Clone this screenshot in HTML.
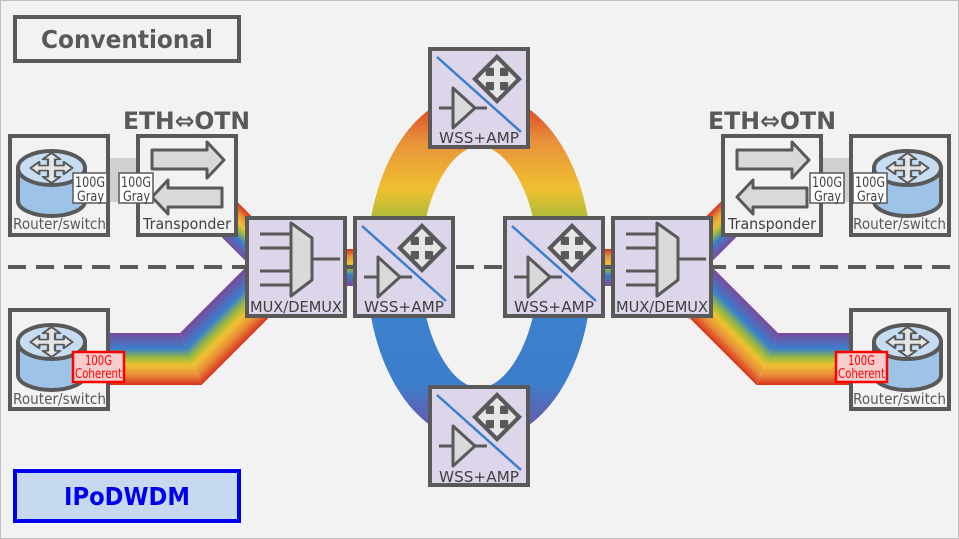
<!DOCTYPE html>
<html><head><meta charset="utf-8"><style>
html,body{margin:0;padding:0;background:#f2f2f2;}
svg{display:block;}
text{font-family:"DejaVu Sans","Liberation Sans",sans-serif;}
</style></head><body>
<svg width="959" height="539" viewBox="0 0 959 539" xmlns="http://www.w3.org/2000/svg">
<defs>
<linearGradient id="ring" gradientUnits="userSpaceOnUse" x1="0" y1="95" x2="0" y2="445">
<stop offset="0" stop-color="#d8321f"/><stop offset="0.13" stop-color="#e8903a"/><stop offset="0.27" stop-color="#f0c030"/><stop offset="0.37" stop-color="#9dbb3c"/><stop offset="0.55" stop-color="#3f80cc"/><stop offset="0.82" stop-color="#3a7fcc"/><stop offset="1" stop-color="#7a4a9c"/>
</linearGradient>
<linearGradient id="hband" x1="0" y1="0" x2="0" y2="1">
<stop offset="0" stop-color="#d8321f"/><stop offset="0.2" stop-color="#e8903a"/><stop offset="0.38" stop-color="#f0c030"/><stop offset="0.52" stop-color="#9dbb3c"/><stop offset="0.7" stop-color="#3a7fcc"/><stop offset="1" stop-color="#7a4a9c"/>
</linearGradient>
<linearGradient id="hbandR" x1="0" y1="1" x2="0" y2="0">
<stop offset="0" stop-color="#d8321f"/><stop offset="0.2" stop-color="#e8903a"/><stop offset="0.38" stop-color="#f0c030"/><stop offset="0.52" stop-color="#9dbb3c"/><stop offset="0.7" stop-color="#3a7fcc"/><stop offset="1" stop-color="#7a4a9c"/>
</linearGradient>
<linearGradient id="dband" gradientUnits="userSpaceOnUse" x1="216.75" y1="369.75" x2="180" y2="333">
<stop offset="0" stop-color="#d8321f"/><stop offset="0.2" stop-color="#e8903a"/><stop offset="0.38" stop-color="#f0c030"/><stop offset="0.52" stop-color="#9dbb3c"/><stop offset="0.7" stop-color="#3a7fcc"/><stop offset="1" stop-color="#7a4a9c"/>
</linearGradient>
<linearGradient id="uband" gradientUnits="userSpaceOnUse" x1="227.7" y1="192.3" x2="202.3" y2="217.7">
<stop offset="0" stop-color="#d8321f"/><stop offset="0.2" stop-color="#e8903a"/><stop offset="0.38" stop-color="#f0c030"/><stop offset="0.52" stop-color="#9dbb3c"/><stop offset="0.7" stop-color="#3a7fcc"/><stop offset="1" stop-color="#7a4a9c"/>
</linearGradient>
<path id="crossp" d="M0,-12 L5,-7 L2,-7 L2,-2 L7,-2 L7,-5 L12,0 L7,5 L7,2 L2,2 L2,7 L5,7 L0,12 L-5,7 L-2,7 L-2,2 L-7,2 L-7,5 L-12,0 L-7,-5 L-7,-2 L-2,-2 L-2,-7 L-5,-7 Z"/>
<g id="router">
<rect x="0" y="0" width="98" height="99" fill="#f2f2f2" stroke="#595959" stroke-width="4"/>
<path d="M8,32 L8,65 A33.5,15 0 0 0 75,65 L75,32 Z" fill="#9dc3e6" stroke="#595959" stroke-width="4"/>
<ellipse cx="41.5" cy="32" rx="33.5" ry="17" fill="#c6dcf0" stroke="#595959" stroke-width="4"/>
<g transform="translate(41.5,32) scale(1.75,1.25)"><use href="#crossp" fill="#e6e6e6" stroke="#595959" stroke-width="1.3" stroke-linejoin="round"/></g>
</g>
<g id="trans">
<rect x="0" y="0" width="98" height="99" fill="#f2f2f2" stroke="#595959" stroke-width="4"/>
<path d="M14,14 L69,14 L69,6 L86,24 L69,42 L69,33 L14,33 Z" fill="#d9d9d9" stroke="#595959" stroke-width="3" stroke-linejoin="round"/>
<path d="M84,52 L30,52 L30,44 L14,61 L30,78 L30,71 L84,71 Z" fill="#d9d9d9" stroke="#595959" stroke-width="3" stroke-linejoin="round"/>
</g>
<g id="mux">
<rect x="0" y="0" width="98" height="98" fill="#ddd5ea" stroke="#595959" stroke-width="4"/>
<path d="M44,5 L65,20 L65,62 L44,78 Z" fill="#d9d9d9" stroke="#595959" stroke-width="3" stroke-linejoin="round"/>
<path d="M13,16 H44 M13,30 H44 M13,53 H44 M13,67 H44 M65,41 H93" stroke="#595959" stroke-width="3"/>
</g>
<g id="wss">
<rect x="0" y="0" width="98" height="98" fill="#ddd5ea" stroke="#595959" stroke-width="4"/>
<line x1="7" y1="8" x2="91" y2="83" stroke="#3a7fcc" stroke-width="2.5"/>
<path d="M23,39 L45,59 L23,79 Z" fill="#d9d9d9" stroke="#595959" stroke-width="3" stroke-linejoin="round"/>
<path d="M9,59 H23 M45,59 H57" stroke="#595959" stroke-width="3"/>
<path d="M67,5 L92,30 L67,55 L42,30 Z" fill="#595959"/>
<g transform="translate(67,30) scale(1.6)"><use href="#crossp" fill="#e6e6e6"/></g>
<rect x="57" y="20" width="7" height="7" fill="#595959"/><rect x="70" y="20" width="7" height="7" fill="#595959"/>
<rect x="57" y="33" width="7" height="7" fill="#595959"/><rect x="70" y="33" width="7" height="7" fill="#595959"/>
</g>
</defs>
<rect x="0.5" y="0.5" width="958" height="538" fill="#f2f2f2" stroke="#bfbfbf"/>

<ellipse cx="479.5" cy="267" rx="86" ry="148" fill="none" stroke="url(#ring)" stroke-width="54"/>

<rect x="106" y="158" width="34" height="44" fill="#d0d0d0"/>
<rect x="819" y="158" width="34" height="44" fill="#d0d0d0"/>

<g>
<polygon points="227.7,192.3 277.7,242.3 252.3,267.7 202.3,217.7" fill="url(#uband)"/>
<polygon points="100,333 180,333 201.5,385 100,385" fill="url(#hbandR)"/>
<polygon points="180,333 201.5,385 281.5,305 260,253" fill="url(#dband)"/>
<rect x="340" y="249" width="20" height="37" fill="url(#hband)"/>
</g>
<g transform="translate(958,0) scale(-1,1)">
<polygon points="227.7,192.3 277.7,242.3 252.3,267.7 202.3,217.7" fill="url(#uband)"/>
<polygon points="100,333 180,333 201.5,385 100,385" fill="url(#hbandR)"/>
<polygon points="180,333 201.5,385 281.5,305 260,253" fill="url(#dband)"/>
<rect x="340" y="249" width="20" height="37" fill="url(#hband)"/>
</g>

<line x1="8" y1="267" x2="952" y2="267" stroke="#595959" stroke-width="4" stroke-dasharray="18,10"/>

<use href="#router" x="10" y="136"/>
<use href="#router" x="10" y="310"/>
<g transform="translate(949,136) scale(-1,1)"><use href="#router"/></g>
<g transform="translate(949,310) scale(-1,1)"><use href="#router"/></g>
<use href="#trans" x="138" y="136"/>
<use href="#trans" x="723" y="136"/>
<use href="#mux" x="247" y="218"/>
<use href="#mux" x="613" y="218"/>
<use href="#wss" x="355" y="218"/>
<use href="#wss" x="505" y="218"/>
<use href="#wss" x="430" y="49"/>
<use href="#wss" x="430" y="387"/>

<g font-size="15" fill="#595959">
<text x="13" y="229" textLength="93" lengthAdjust="spacingAndGlyphs">Router/switch</text>
<text x="13" y="404" textLength="93" lengthAdjust="spacingAndGlyphs">Router/switch</text>
<text x="853" y="229" textLength="93" lengthAdjust="spacingAndGlyphs">Router/switch</text>
<text x="853" y="404" textLength="93" lengthAdjust="spacingAndGlyphs">Router/switch</text>
</g>
<g font-size="15.5" fill="#404040">
<text x="143" y="229" textLength="88" lengthAdjust="spacingAndGlyphs">Transponder</text>
<text x="728" y="229" textLength="88" lengthAdjust="spacingAndGlyphs">Transponder</text>
<text x="250" y="312" textLength="92" lengthAdjust="spacingAndGlyphs">MUX/DEMUX</text>
<text x="616" y="312" textLength="92" lengthAdjust="spacingAndGlyphs">MUX/DEMUX</text>
<text x="364" y="312" textLength="80" lengthAdjust="spacingAndGlyphs">WSS+AMP</text>
<text x="514" y="312" textLength="80" lengthAdjust="spacingAndGlyphs">WSS+AMP</text>
<text x="439" y="143" textLength="80" lengthAdjust="spacingAndGlyphs">WSS+AMP</text>
<text x="439" y="482" textLength="80" lengthAdjust="spacingAndGlyphs">WSS+AMP</text>
</g>

<g font-size="14" fill="#404040">
<rect x="73" y="173" width="34" height="30" fill="#fff" stroke="#595959" stroke-width="1.5"/>
<text x="75" y="187" textLength="30" lengthAdjust="spacingAndGlyphs">100G</text><text x="77" y="201" textLength="27" lengthAdjust="spacingAndGlyphs">Gray</text>
<rect x="119" y="173" width="34" height="30" fill="#fff" stroke="#595959" stroke-width="1.5"/>
<text x="121" y="187" textLength="30" lengthAdjust="spacingAndGlyphs">100G</text><text x="123" y="201" textLength="27" lengthAdjust="spacingAndGlyphs">Gray</text>
<rect x="810" y="173" width="34" height="30" fill="#fff" stroke="#595959" stroke-width="1.5"/>
<text x="812" y="187" textLength="30" lengthAdjust="spacingAndGlyphs">100G</text><text x="814" y="201" textLength="27" lengthAdjust="spacingAndGlyphs">Gray</text>
<rect x="853" y="173" width="34" height="30" fill="#fff" stroke="#595959" stroke-width="1.5"/>
<text x="855" y="187" textLength="30" lengthAdjust="spacingAndGlyphs">100G</text><text x="857" y="201" textLength="27" lengthAdjust="spacingAndGlyphs">Gray</text>
</g>
<g font-size="13" fill="#ff0000">
<rect x="73" y="352" width="51" height="30" fill="#f6cccc" stroke="#ff0000" stroke-width="2.5"/>
<text x="85" y="365" textLength="27" lengthAdjust="spacingAndGlyphs">100G</text><text x="75" y="378" textLength="47" lengthAdjust="spacingAndGlyphs">Coherent</text>
<rect x="836" y="352" width="51" height="30" fill="#f6cccc" stroke="#ff0000" stroke-width="2.5"/>
<text x="848" y="365" textLength="27" lengthAdjust="spacingAndGlyphs">100G</text><text x="838" y="378" textLength="47" lengthAdjust="spacingAndGlyphs">Coherent</text>
</g>

<g font-weight="bold" font-size="24" fill="#595959">
<text x="123" y="129" textLength="127" lengthAdjust="spacingAndGlyphs">ETH⇔OTN</text>
<text x="708" y="129" textLength="128" lengthAdjust="spacingAndGlyphs">ETH⇔OTN</text>
</g>
<rect x="15" y="17" width="224" height="44" fill="#f2f2f2" stroke="#595959" stroke-width="4"/>
<text x="41" y="48" font-size="25" font-weight="bold" fill="#595959" textLength="172" lengthAdjust="spacingAndGlyphs">Conventional</text>
<rect x="15" y="471" width="224" height="50" fill="#c6d9f0" stroke="#0000ee" stroke-width="4"/>
<text x="64" y="505" font-size="25" font-weight="bold" fill="#0000ee" textLength="126" lengthAdjust="spacingAndGlyphs">IPoDWDM</text>
</svg>
</body></html>
